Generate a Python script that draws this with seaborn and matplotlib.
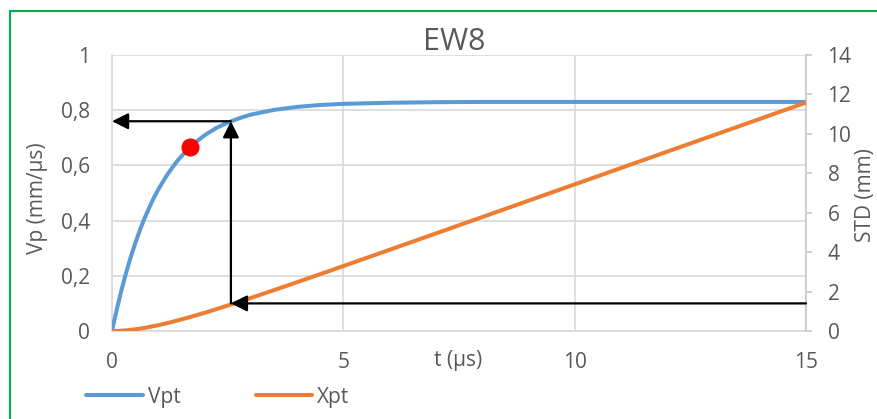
import matplotlib
matplotlib.use("Agg")
import matplotlib.pyplot as plt
import matplotlib.patches as mpatches
from matplotlib.lines import Line2D
import seaborn as sns
import pandas as pd

# ---- data ----
t_us = [0, 0.1, 0.2, 0.3, 0.4, 0.5, 0.6, 0.7, 0.8, 0.9, 1.0, 1.2, 1.4, 1.6, 1.8, 2.0,
        2.25, 2.5, 2.75, 3.0, 3.5, 4.0, 4.5, 5.0, 6.0, 7.0, 8.0, 10.0, 12.0, 15.0]
vpt = [0, 0.076, 0.145, 0.208, 0.265, 0.317, 0.364, 0.407, 0.445, 0.481, 0.513, 0.568,
       0.614, 0.652, 0.683, 0.709, 0.735, 0.755, 0.771, 0.784, 0.801, 0.812, 0.819,
       0.823, 0.827, 0.829, 0.830, 0.830, 0.830, 0.830]
xpt = [0, 0.004, 0.015, 0.033, 0.056, 0.085, 0.120, 0.158, 0.201, 0.247, 0.296, 0.405,
       0.524, 0.650, 0.784, 0.923, 1.104, 1.290, 1.481, 1.675, 2.072, 2.475, 2.883,
       3.294, 4.120, 4.948, 5.777, 7.437, 9.097, 11.587]

red_point_t = [1.69]
red_point_v = [0.665]

arrow_t = 2.57          # time of the construction lines
arrow_v = 0.76          # Vp reached at that time (mm/us)
arrow_x_mm = 1.4        # STD at that time (mm)
t_max = 15

x_ticks = [0, 5, 10, 15]
v_ticks = [0, 0.2, 0.4, 0.6, 0.8, 1.0]
v_tick_labels = ["0", "0,2", "0,4", "0,6", "0,8", "1"]
mm_ticks = [0, 2, 4, 6, 8, 10, 12, 14]

df = pd.DataFrame({"t": t_us, "Vpt": vpt, "Xpt": xpt})

# ---- styling ----
sns.set_style("white")
plt.rcParams["font.family"] = ["Open Sans", "DejaVu Sans"]
GRAY = "#595959"
GRID = "#d9d9d9"
BLUE = "#5B9BD5"
ORANGE = "#ED7D31"

fig = plt.figure(figsize=(8.77, 4.19), dpi=100)
ax = fig.add_axes([112 / 877, 1 - 331 / 419, (806 - 112) / 877, (331 - 55) / 419])
ax2 = ax.twinx()

sns.lineplot(data=df, x="t", y="Vpt", ax=ax, color=BLUE, linewidth=2.9, zorder=3)
sns.lineplot(data=df, x="t", y="Xpt", ax=ax2, color=ORANGE, linewidth=2.9, zorder=3)
for a in (ax, ax2):
    for ln in a.get_lines():
        ln.set_solid_joinstyle("round")
        ln.set_solid_capstyle("round")

ax.set_xlim(0, 15)
ax.set_ylim(0, 1)
ax2.set_ylim(0, 14)

ax.set_xticks(x_ticks)
ax.set_xticklabels([str(v) for v in x_ticks])
ax.set_yticks(v_ticks)
ax.set_yticklabels(v_tick_labels)
ax2.set_yticks(mm_ticks)
ax2.set_yticklabels([str(v) for v in mm_ticks])

ax.grid(True, color=GRID, linewidth=1.2)
ax.set_axisbelow(True)
for a in (ax, ax2):
    for s in a.spines.values():
        s.set_visible(False)
ax.spines["left"].set_visible(True)
ax.spines["left"].set_color(GRID)
ax.spines["left"].set_linewidth(1.2)
ax.spines["bottom"].set_visible(True)
ax.spines["bottom"].set_color(GRID)
ax.spines["bottom"].set_linewidth(1.2)
ax2.spines["right"].set_visible(True)
ax2.spines["right"].set_color("#c8c8c8")
ax2.spines["right"].set_linewidth(1.2)

ax.tick_params(axis="both", length=0, labelsize=15, labelcolor=GRAY)
ax.tick_params(axis="y", pad=16)
ax.tick_params(axis="x", pad=15)
ax2.tick_params(axis="y", length=4.5, width=1.2, color="#c8c8c8", pad=11, labelsize=15, labelcolor=GRAY)

ax.set_xlabel("")
ax.set_ylabel("")
ax2.set_ylabel("")

# red marker
ax.plot(red_point_t, red_point_v, "o", color="#ff0000", markersize=12, zorder=6)

# construction arrows (drawn on ax2, in mm units)
scale = 14.0
ap = dict(arrowstyle="-|>,head_length=0.7,head_width=0.35", color="black", lw=1.6,
          shrinkA=0, shrinkB=0, mutation_scale=14)
ax2.annotate("", xy=(arrow_t, arrow_x_mm), xytext=(t_max, arrow_x_mm), arrowprops=ap, zorder=7)
ax2.annotate("", xy=(arrow_t, arrow_v * scale), xytext=(arrow_t, arrow_x_mm), arrowprops=ap, zorder=7)
ax2.annotate("", xy=(0, arrow_v * scale), xytext=(arrow_t, arrow_v * scale), arrowprops=ap, zorder=7,
             annotation_clip=False)

# texts
fig.text(454 / 877, 1 - 42 / 419, "EW8", ha="center", va="center", fontsize=22, color=GRAY)
fig.text(458 / 877, 1 - 360 / 419, "t (µs)", ha="center", va="center", fontsize=15, color=GRAY)
fig.text(37 / 877, 1 - 198 / 419, "Vp (mm/µs)", ha="center", va="center", rotation=90,
         fontsize=15, color=GRAY)
fig.text(865 / 877, 1 - 195 / 419, "STD (mm)", ha="center", va="center", rotation=90,
         fontsize=15, color=GRAY)

# legend
handles = [Line2D([], [], color=BLUE, lw=2.9), Line2D([], [], color=ORANGE, lw=2.9)]
fig.legend(handles, ["Vpt", "Xpt"], loc="center left", bbox_to_anchor=(78 / 877, 1 - 397 / 419),
           ncol=2, frameon=False, fontsize=15, labelcolor=GRAY, handlelength=2.7,
           handletextpad=0.25, columnspacing=3.6, borderaxespad=0)

# green frame (continues past right and bottom edges)
frame = mpatches.Rectangle((9.5 / 877, -0.2), 1.5, 1.2 - 11.5 / 419, transform=fig.transFigure,
                           fill=False, edgecolor="#00B050", linewidth=1.5, clip_on=False)
fig.patches.append(frame)

fig.savefig("out.png", dpi=100)
